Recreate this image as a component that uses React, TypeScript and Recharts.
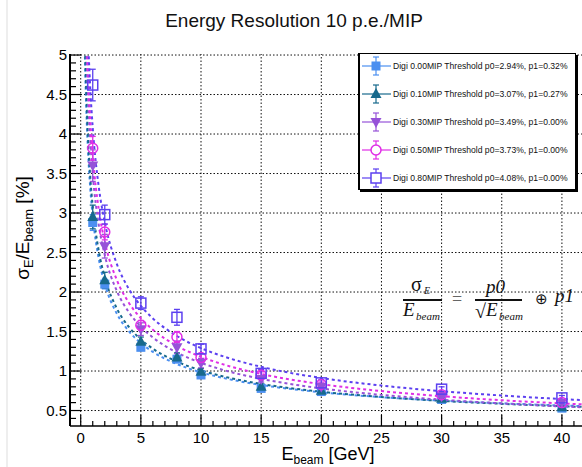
import React from 'react';
import { ComposedChart, Line, Scatter, XAxis, YAxis, ReferenceLine, ErrorBar, Legend } from 'recharts';

// ---- data ----
const energies = [1, 2, 5, 8, 10, 15, 20, 30, 40];

const thresholds = ['0.00', '0.10', '0.30', '0.50', '0.80'];
const p0Values = ['2.94', '3.07', '3.49', '3.73', '4.08'];
const p1Values = ['0.32', '0.27', '0.00', '0.00', '0.00'];

const res000 = [2.88, 2.1, 1.3, 1.15, 0.95, 0.78, 0.74, 0.64, 0.53];
const res010 = [2.95, 2.15, 1.37, 1.17, 0.99, 0.8, 0.75, 0.65, 0.54];
const res030 = [3.6, 2.58, 1.53, 1.3, 1.1, 0.9, 0.8, 0.68, 0.6];
const res050 = [3.82, 2.76, 1.58, 1.43, 1.17, 0.95, 0.83, 0.7, 0.6];
const res080 = [4.62, 2.98, 1.86, 1.68, 1.28, 0.97, 0.85, 0.77, 0.66];

const err000 = [0.1, 0.06, 0.04, 0.04, 0.03, 0.03, 0.03, 0.02, 0.02];
const err010 = [0.15, 0.1, 0.06, 0.06, 0.04, 0.03, 0.03, 0.02, 0.02];
const err030 = [0.2, 0.15, 0.08, 0.08, 0.06, 0.04, 0.03, 0.03, 0.03];
const err050 = [0.15, 0.1, 0.06, 0.07, 0.05, 0.04, 0.03, 0.03, 0.03];
const err080 = [0.2, 0.12, 0.08, 0.1, 0.06, 0.05, 0.04, 0.03, 0.03];

// fit curves
const fitE000 = [0.35, 0.4, 0.5, 0.6, 0.8, 1, 1.5, 2, 3, 4, 5, 6, 8, 10, 12, 15, 20, 25, 30, 35, 40, 42];
const fit000 = [4.98, 4.66, 4.17, 3.81, 3.3, 2.957, 2.422, 2.103, 1.727, 1.504, 1.353, 1.242, 1.088, 0.983, 0.907, 0.824, 0.731, 0.669, 0.625, 0.591, 0.564, 0.555];
const fitE010 = [0.38, 0.4, 0.5, 0.6, 0.8, 1, 1.5, 2, 3, 4, 5, 6, 8, 10, 12, 15, 20, 25, 30, 35, 40, 42];
const fit010 = [4.99, 4.86, 4.35, 3.97, 3.44, 3.082, 2.521, 2.188, 1.793, 1.559, 1.399, 1.282, 1.119, 1.008, 0.926, 0.837, 0.738, 0.671, 0.622, 0.585, 0.555, 0.545];
const fitE030 = [0.49, 0.6, 0.8, 1, 1.5, 2, 3, 4, 5, 6, 8, 10, 12, 15, 20, 25, 30, 35, 40, 42];
const fit030 = [4.986, 4.506, 3.902, 3.49, 2.85, 2.468, 2.015, 1.745, 1.561, 1.425, 1.234, 1.104, 1.007, 0.901, 0.78, 0.698, 0.637, 0.59, 0.552, 0.539];
const fitE050 = [0.56, 0.6, 0.8, 1, 1.5, 2, 3, 4, 5, 6, 8, 10, 12, 15, 20, 25, 30, 35, 40, 42];
const fit050 = [4.985, 4.815, 4.17, 3.73, 3.046, 2.638, 2.153, 1.865, 1.668, 1.523, 1.319, 1.18, 1.077, 0.963, 0.834, 0.746, 0.681, 0.63, 0.59, 0.576];
const fitE080 = [0.67, 0.8, 1, 1.5, 2, 3, 4, 5, 6, 8, 10, 12, 15, 20, 25, 30, 35, 40, 42];
const fit080 = [4.985, 4.562, 4.08, 3.331, 2.885, 2.356, 2.04, 1.825, 1.666, 1.443, 1.29, 1.178, 1.053, 0.912, 0.816, 0.745, 0.69, 0.645, 0.63];

const xMajorTicks = [0, 5, 10, 15, 20, 25, 30, 35, 40];
const xAllTicks = [0, 1, 2, 3, 4, 5, 6, 7, 8, 9, 10, 11, 12, 13, 14, 15, 16, 17, 18, 19, 20, 21, 22, 23, 24, 25, 26, 27, 28, 29, 30, 31, 32, 33, 34, 35, 36, 37, 38, 39, 40, 41];
const yMajorTicks = [0.5, 1, 1.5, 2, 2.5, 3, 3.5, 4, 4.5, 5];
const yAllTicks = [0.4, 0.5, 0.6, 0.7, 0.8, 0.9, 1, 1.1, 1.2, 1.3, 1.4, 1.5, 1.6, 1.7, 1.8, 1.9, 2, 2.1, 2.2, 2.3, 2.4, 2.5, 2.6, 2.7, 2.8, 2.9, 3, 3.1, 3.2, 3.3, 3.4, 3.5, 3.6, 3.7, 3.8, 3.9, 4, 4.1, 4.2, 4.3, 4.4, 4.5, 4.6, 4.7, 4.8, 4.9, 5];

const xDomain = [-0.89, 41.67];
const yDomain = [0.304, 5.013];

// ---- styles ----
const colors = ['#4b8ff0', '#17698c', '#9652d8', '#e02ee6', '#5c40f0'];
const markerKinds = ['sqf', 'tri', 'tridown', 'circ', 'sqo'];

const resList = [res000, res010, res030, res050, res080];
const errList = [err000, err010, err030, err050, err080];
const fitEList = [fitE000, fitE010, fitE030, fitE050, fitE080];
const fitList = [fit000, fit010, fit030, fit050, fit080];

const series = thresholds.map((t, i) => ({
  name: `Digi ${t}MIP Threshold p0=${p0Values[i]}%, p1=${p1Values[i]}%`,
  color: colors[i],
  kind: markerKinds[i],
  points: energies.map((x, j) => ({ x, y: resList[i][j], err: errList[i][j] })),
  fit: fitEList[i].map((x, j) => ({ x, y: fitList[i][j] })),
}));

const SANS = '"Liberation Sans", Arial, Helvetica, sans-serif';
const SERIF = '"Liberation Serif", "Times New Roman", serif';

function Marker({ cx, cy, kind, color }: any) {
  if (cx == null || cy == null) return null;
  const s = 4.5;
  switch (kind) {
    case 'sqf':
      return <rect x={cx - s} y={cy - s} width={2 * s} height={2 * s} fill={color} />;
    case 'tri':
      return <polygon points={`${cx},${cy - 6} ${cx - 5.5},${cy + 4} ${cx + 5.5},${cy + 4}`} fill={color} />;
    case 'tridown':
      return <polygon points={`${cx},${cy + 6} ${cx - 5.5},${cy - 4} ${cx + 5.5},${cy - 4}`} fill={color} />;
    case 'circ':
      return <circle cx={cx} cy={cy} r={5} fill="none" stroke={color} strokeWidth={1.5} />;
    case 'sqo':
      return <rect x={cx - 5} y={cy - 5} width={10} height={10} fill="none" stroke={color} strokeWidth={1.5} />;
    default:
      return null;
  }
}

const XTick = (props: any) => {
  const { x, y, payload } = props;
  const major = xMajorTicks.includes(payload.value);
  return (
    <g>
      <line x1={x} x2={x} y1={y} y2={y - (major ? 11 : 5)} stroke="#000" strokeWidth={1.2} />
      {major && (
        <text x={x} y={y + 17} textAnchor="middle" fontSize={15} fontFamily={SANS} fill="#000">
          {payload.value}
        </text>
      )}
    </g>
  );
};

const YTick = (props: any) => {
  const { x, y, payload } = props;
  const major = yMajorTicks.includes(payload.value);
  return (
    <g>
      <line x1={x} x2={x + (major ? 11 : 6)} y1={y} y2={y} stroke="#000" strokeWidth={1.2} />
      {major && (
        <text x={x - 3} y={y + 5} textAnchor="end" fontSize={15} fontFamily={SANS} fill="#000">
          {payload.value}
        </text>
      )}
    </g>
  );
};

const LegendBox = () => (
  <div
    style={{
      width: 218,
      height: 137,
      boxSizing: 'border-box',
      border: '1px solid #000',
      borderLeft: '2px solid #000',
      boxShadow: '2px 2px 0 #000',
      background: '#fff',
      fontFamily: SANS,
      fontSize: 8.6,
      color: '#111',
      overflow: 'hidden',
    }}
  >
    <div style={{ marginTop: -2 }}>
      {series.map((s) => (
        <div key={s.name} style={{ height: 28, display: 'flex', alignItems: 'center', whiteSpace: 'nowrap' }}>
          <svg width={33} height={22} style={{ flex: 'none' }}>
            <line x1={2} x2={31} y1={11} y2={11} stroke={s.color} strokeWidth={1.2} />
            <line x1={16} x2={16} y1={2} y2={20} stroke={s.color} strokeWidth={1.2} />
            <line x1={13} x2={19} y1={2} y2={2} stroke={s.color} strokeWidth={1.2} />
            <line x1={13} x2={19} y1={20} y2={20} stroke={s.color} strokeWidth={1.2} />
            {s.kind === 'circ' ? (
              <circle cx={16} cy={11} r={5} fill="#fff" stroke={s.color} strokeWidth={1.5} />
            ) : s.kind === 'sqo' ? (
              <rect x={11} y={6} width={10} height={10} fill="#fff" stroke={s.color} strokeWidth={1.5} />
            ) : (
              <Marker cx={16} cy={11} kind={s.kind} color={s.color} />
            )}
          </svg>
          <span>{s.name}</span>
        </div>
      ))}
    </div>
  </div>
);

export default function App() {
  return (
    <div style={{ position: 'absolute', left: 0, top: 0, width: 582, height: 467, background: '#fff', overflow: 'hidden' }}>
      <ComposedChart width={582} height={467} margin={{ top: 54, right: 0, bottom: 0, left: 0 }}>
        <XAxis
          dataKey="x"
          type="number"
          domain={xDomain}
          allowDataOverflow
          ticks={xAllTicks}
          interval={0}
          tick={<XTick />}
          tickLine={false}
          tickSize={0}
          tickMargin={0}
          height={41}
          axisLine={{ stroke: '#000', strokeWidth: 1.5 }}
        />
        <XAxis
          xAxisId="top"
          orientation="top"
          type="number"
          domain={xDomain}
          allowDataOverflow
          tick={false}
          tickLine={false}
          height={0}
          axisLine={{ stroke: '#000', strokeWidth: 1.5 }}
        />
        <YAxis
          type="number"
          domain={yDomain}
          allowDataOverflow
          ticks={yAllTicks}
          interval={0}
          tick={<YTick />}
          tickLine={false}
          tickSize={0}
          tickMargin={0}
          width={70}
          axisLine={{ stroke: '#000', strokeWidth: 2 }}
        />
        {xMajorTicks.map((v) => (
          <ReferenceLine key={'gx' + v} x={v} stroke="#111" strokeDasharray="1.5 2" strokeWidth={1} />
        ))}
        {yMajorTicks.map((v) => (
          <ReferenceLine key={'gy' + v} y={v} stroke="#111" strokeDasharray="1.5 2" strokeWidth={1} />
        ))}
        {series.map((s) => (
          <Line
            key={'fit' + s.name}
            data={s.fit}
            dataKey="y"
            type="monotone"
            stroke={s.color}
            strokeWidth={2}
            strokeDasharray="3 3"
            dot={false}
            activeDot={false}
            legendType="none"
            isAnimationActive={false}
          />
        ))}
        {series.map((s) => (
          <Scatter
            key={'pts' + s.name}
            name={s.name}
            data={s.points}
            dataKey="y"
            fill={s.color}
            isAnimationActive={false}
            shape={(p: any) => <Marker cx={p.cx} cy={p.cy} kind={s.kind} color={s.color} />}
          >
            <ErrorBar dataKey="err" direction="y" width={3} stroke={s.color} strokeWidth={1.3} isAnimationActive={false} />
          </Scatter>
        ))}
        <Legend
          layout="horizontal"
          verticalAlign="middle"
          align="center"
          content={() => <LegendBox />}
          wrapperStyle={{ left: 358, top: 53, width: 218, height: 137 }}
        />
      </ComposedChart>
      <svg width={582} height={467} style={{ position: 'absolute', left: 0, top: 0, pointerEvents: 'none' }}>
        <line x1={7} x2={7} y1={0} y2={467} stroke="#ddd" strokeWidth={1} />
        <text x={294} y={27} textAnchor="middle" fontSize={19} fontFamily={SANS} fill="#111">
          Energy Resolution 10 p.e./MIP
        </text>
        <text transform="translate(29,228) rotate(-90)" textAnchor="middle" fontSize={19} fontFamily={SANS} fill="#000">
          σ<tspan fontSize={13} dy={4}>E</tspan>
          <tspan dy={-4}>/E</tspan>
          <tspan fontSize={13} dy={4}>beam</tspan>
          <tspan dy={-4}> [%]</tspan>
        </text>
        <text x={328} y={460} textAnchor="middle" fontSize={18} fontFamily={SANS} fill="#000">
          E<tspan fontSize={12} dy={4}>beam</tspan>
          <tspan dy={-4}> [GeV]</tspan>
        </text>
        {/* formula */}
        <g fontFamily={SERIF} fill="#111">
          <text x={411} y={291} fontSize={20}>σ</text>
          <text x={424} y={294} fontSize={10} fontStyle="italic">E</text>
          <line x1={403} x2={442} y1={300} y2={300} stroke="#111" strokeWidth={2} />
          <text x={403} y={316} fontSize={19} fontStyle="italic">E</text>
          <text x={416} y={320} fontSize={11} fontStyle="italic">beam</text>
          <text x={452} y={305} fontSize={18} fill="#666">=</text>
          <text x={486} y={293} fontSize={19} fontStyle="italic">p0</text>
          <line x1={475} x2={522} y1={300} y2={300} stroke="#111" strokeWidth={2} />
          <text x={475} y={318} fontSize={20}>√</text>
          <text x={486} y={316} fontSize={19} fontStyle="italic">E</text>
          <text x={499} y={320} fontSize={11} fontStyle="italic">beam</text>
          <text x={535} y={304} fontSize={15}>⊕</text>
          <text x={555} y={302} fontSize={19} fontStyle="italic">p1</text>
        </g>
      </svg>
    </div>
  );
}
